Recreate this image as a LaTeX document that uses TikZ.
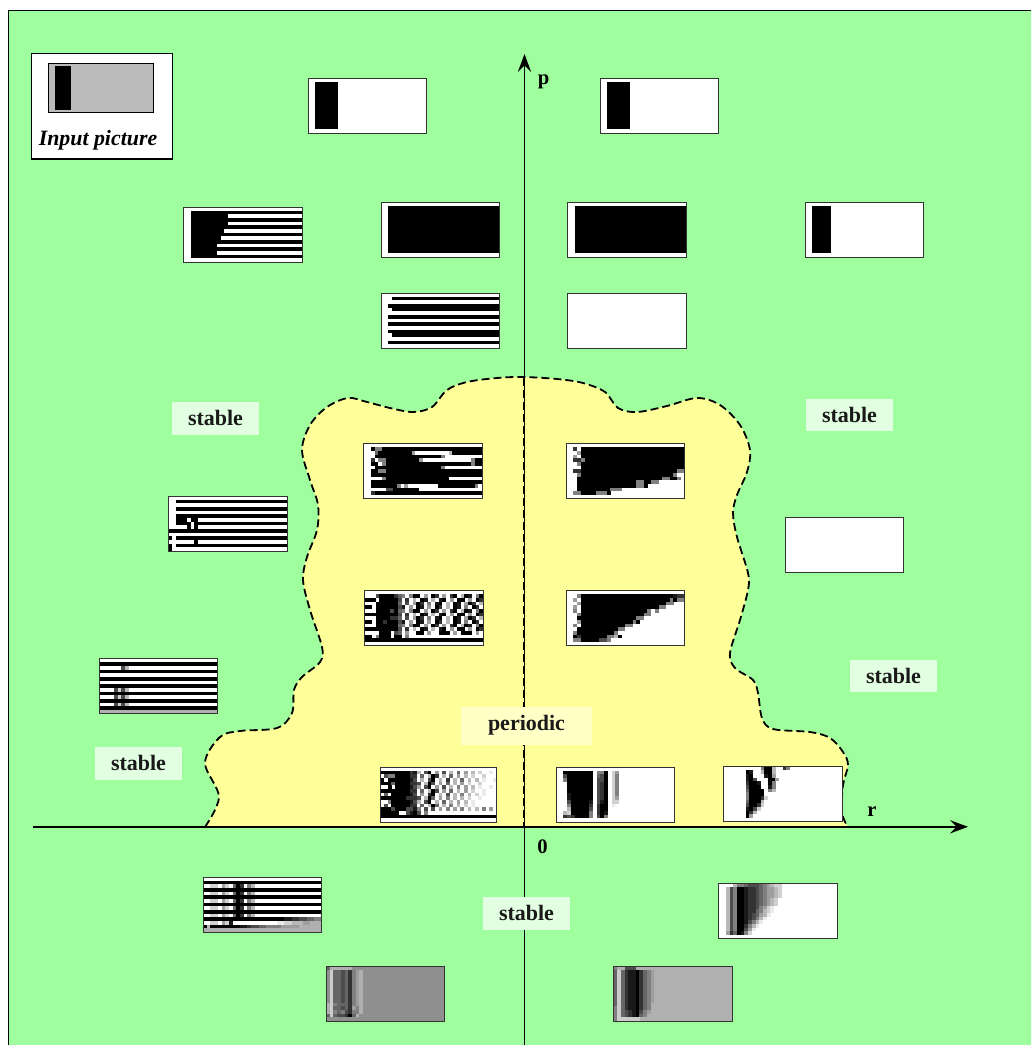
\documentclass[tikz,border=0pt]{standalone}
\usepackage{fontspec}
\setmainfont{Liberation Serif}
\usetikzlibrary{arrows.meta}
\definecolor{bggreen}{HTML}{9FFF9F}
\definecolor{regionyellow}{HTML}{FFFF99}
\definecolor{stablefill}{HTML}{E2FFE2}
\definecolor{periodicfill}{HTML}{FFFFC6}
\colorlet{g1}{black!8}\colorlet{g2}{black!18}\colorlet{g3}{black!28}\colorlet{g4}{black!38}
\colorlet{g5}{black!50}\colorlet{g6}{black!60}\colorlet{g7}{black!70}\colorlet{g8}{black!80}
\colorlet{g9}{black!90}\colorlet{gX}{black}
\colorlet{ga}{black!31}\colorlet{gb}{black!44}\colorlet{gc}{black!20}
\newcount\cellx \newcount\celly
\newdimen\cellw
\def\drawcell#1{\ifx#1.\else\fill[color=g#1] (\the\cellx,\the\celly) rectangle ++(1.04,1.04);\fi}
\def\scanrow#1{\ifx#1\relax\let\nextcell\relax\else\drawcell{#1}\global\advance\cellx by 1 \let\nextcell\scanrow\fi\nextcell}
\def\endmark{\relax}
\def\rowloop#1,{\def\thisrow{#1}\ifx\thisrow\endmark\let\nextrow\relax\else\global\cellx=0 \scanrow#1\relax\global\advance\celly by 1 \let\nextrow\rowloop\fi\nextrow}
\def\dorows#1{\edef\rowsx{#1}\expandafter\rowloop\rowsx,\relax,}
% [width], name, left, top, background, rows
\newcommand\thumb[6][88.875pt]{%
  \node[thumbbox,minimum width=#1,fill=#5] (#2) at (#3,#4) {};
  \cellw=#1\relax \divide\cellw by 32 \edef\cellwtxt{\the\cellw}%
  \begin{scope}[shift={(#3,#4)},x=\cellwtxt,y=-2.75pt]
    \clip (0,0) rectangle (32,15);
    \global\celly=0
    \dorows#6
  \end{scope}
  \draw[thumbedge] (#2.north west) rectangle (#2.south east);
}
\def\rowsbarA{.,..XXXXXX,..XXXXXX,..XXXXXX,..XXXXXX,..XXXXXX,..XXXXXX,..XXXXXX,..XXXXXX,..XXXXXX,..XXXXXX,..XXXXXX,..XXXXXX,..XXXXXX}
\def\rowsbarB{.,..XXXXX,..XXXXX,..XXXXX,..XXXXX,..XXXXX,..XXXXX,..XXXXX,..XXXXX,..XXXXX,..XXXXX,..XXXXX,..XXXXX,..XXXXX}
\def\rowsfull{.,..XXXXXXXXXXXXXXXXXXXXXXXXXXXXXX,..XXXXXXXXXXXXXXXXXXXXXXXXXXXXXX,..XXXXXXXXXXXXXXXXXXXXXXXXXXXXXX,..XXXXXXXXXXXXXXXXXXXXXXXXXXXXXX,..XXXXXXXXXXXXXXXXXXXXXXXXXXXXXX,..XXXXXXXXXXXXXXXXXXXXXXXXXXXXXX,..XXXXXXXXXXXXXXXXXXXXXXXXXXXXXX,..XXXXXXXXXXXXXXXXXXXXXXXXXXXXXX,..XXXXXXXXXXXXXXXXXXXXXXXXXXXXXX,..XXXXXXXXXXXXXXXXXXXXXXXXXXXXXX,..XXXXXXXXXXXXXXXXXXXXXXXXXXXXXX,..XXXXXXXXXXXXXXXXXXXXXXXXXXXXXX,..XXXXXXXXXXXXXXXXXXXXXXXXXXXXXX}
\def\fl{XXXXXXXXXXXXXXXXXXXXXXXXXXXXXXXX}
\def\mk{..22.42.6X8.53}
\def\ckA{5.5XX.4.X8.4.8X.3X9.5X}
\def\ckB{.8.3.X9.3.9X.4.XX.4.X8}
\def\ckC{.7.4X8.5.9X.3.X9.4X8.3}
\def\ckD{9.4.X9.4.X8.3.X9.5.X8.}
\tikzset{
  x=0.75pt,y=-0.75pt,
  thumbbox/.style={anchor=north west,minimum height=41.25pt,inner sep=0pt,outer sep=0pt},
  thumbedge/.style={draw=black!80,line width=0.7pt},
  stablebox/.style={fill=stablefill,minimum width=65.25pt,minimum height=24.5pt,inner sep=0pt},
  periodicbox/.style={fill=periodicfill,minimum width=98pt,minimum height=28.5pt,inner sep=0pt},
  regionlabel/.style={font=\bfseries\fontsize{16.5}{18}\selectfont,text=black!90},
  axislabel/.style={font=\bfseries\fontsize{15.5}{18}\selectfont,inner sep=0pt},
  axisline/.style={line width=1.2pt,-{Stealth[length=13.5pt,width=10pt,inset=5pt]}},
  boundary/.style={draw=black,line width=1.35pt,dash pattern=on 6pt off 3pt},
}
\def\bnd{plot[smooth,tension=.55] coordinates {(205,827) (219,797) (205,763) (220,737) (240,731) (277,728) (292,713) (294,690) (302,677) (320,662) (322,647) (310,610) (303,580) (307,557) (317,530) (318,505) (310,480) (302,450) (310,425) (327,407) (348,398) (367,402) (390,408) (413,412) (432,407) (447,390) (467,382) (497,378) (523,377) (557,379) (583,383) (605,392) (618,408) (637,412) (667,406) (697,398) (720,405) (740,425) (750,450) (747,472) (737,495) (733,513) (737,537) (748,573) (748,590) (740,620) (730,653) (735,668) (753,680) (758,693) (762,718) (773,729) (810,732) (830,738) (843,752) (848,765) (843,785) (842,813) (848,827)}}
\begin{document}
\begin{tikzpicture}
\useasboundingbox (0,0) rectangle (1031,1045);
\clip (0,0) rectangle (1031,1045);
\coordinate (frameA) at (8.5,10.5);
\coordinate (frameB) at (1045,1060);
\draw[fill=bggreen,line width=1pt] (frameA) rectangle (frameB);
\fill[regionyellow] \bnd -- cycle;
% axes
\coordinate (pstart) at (524.5,1050);
\coordinate (ptip) at (524.5,54);
\coordinate (rstart) at (33,826.8);
\coordinate (rtip) at (968,826.8);
\coordinate (dashA) at (524,378);
\coordinate (dashB) at (524,827);
\draw[axisline] (pstart) -- (ptip);
\draw[axisline] (rstart) -- (rtip);
\draw[boundary,line width=1.6pt] (dashA) -- (dashB);
\draw[boundary] \bnd;
\node[axislabel] (plabel) at (543.5,81.5) {p};
\node[axislabel] (rlabel) at (872,812) {r};
\node[axislabel] (zerolabel) at (542.5,847) {0};
% input picture
\node[draw=black,fill=white,line width=1.1pt,minimum width=105.5pt,minimum height=79pt,inner sep=0pt,anchor=north west] (inputframe) at (31,53) {};
\node[draw=black,fill=black!27,line width=0.8pt,minimum width=79pt,minimum height=36.5pt,inner sep=0pt,anchor=north west] (inputimage) at (48,63) {};
\node[fill=black,minimum width=12pt,minimum height=33pt,inner sep=0pt,anchor=north west] (inputbar) at (55,66) {};
\node[font=\bfseries\itshape\fontsize{16.4}{18}\selectfont,inner sep=0pt] (inputlabel) at (98,140) {Input picture};
% thumbnails
\thumb{tA}{308}{78}{white}{\rowsbarA}
\thumb{tB}{600}{78}{white}{\rowsbarA}
\thumb{tC}{183.5}{207}{white}{{.,
..XXXXXXXXXXXXXXXXXXXXXXXXXXXXXX,
..XXXXXXXXXX....................,
..XXXXXXXXXXXXXXXXXXXXXXXXXXXXXX,
..XXXXXXXXXX....................,
..XXXXXXXXXXXXXXXXXXXXXXXXXXXXXX,
..XXXXXXXXX.....................,
..XXXXXXXXXXXXXXXXXXXXXXXXXXXXXX,
..XXXXXXXX......................,
..XXXXXXXXXXXXXXXXXXXXXXXXXXXXXX,
..XXXXXXX.......................,
..XXXXXXXXXXXXXXXXXXXXXXXXXXXXXX,
..XXXXXXX.......................,
..XXXXXXXXXXXXXXXXXXXXXXXXXXXXXX}}
\thumb{tD}{381}{202}{white}{\rowsfull}
\thumb{tE}{567.5}{202}{white}{\rowsfull}
\thumb{tF}{805}{202}{white}{\rowsbarB}
\thumb{tG}{381}{293}{white}{{.,
...XXXXXXXXXXXXXXXXXXXXXXXXXXXXX,
.,
..XXXXXXXXXXXXXXXXXXXXXXXXXXXXXX,
...XXXXXXXXXXXXXXXXXXXXXXXXXXXXX,
.,
..XXXXXXXXXXXXXXXXXXXXXXXXXXXXXX,
.,
..XXXXXXXXXXXXXXXXXXXXXXXXXXXXXX,
.,
..XXXXXXXXXXXXXXXXXXXXXXXXXXXXXX,
...XXXXXXXXXXXXXXXXXXXXXXXXXXXXX,
.,
..XXXXXXXXXXXXXXXXXXXXXXXXXXXXXX}}
\thumb{tH}{567.5}{293}{white}{{.}}
\thumb{tI}{363.5}{443.5}{white}{{.,
..X55XXXXXXXXXXXXXXXXXXXXXXXXXXX,
...6XXXXXXXXX4.........3XXXXXXXX,
...XXXXXXXXXXXXXXXXXX5..........,
..8.55XXXXXXXXX4.............5XX,
..XX.5XXXXXXXXXXXXXXXXXXXXXXX5XX,
...XXXXXXXXXXXXXXXXXX5..........,
..XX55XXXXXXXXXXXXXXXXXXXXXXXXXX,
..XXXXXXXXXXXXXXXXXXXXXXXXXXXXXX,
.....5XXXXXXXXXXXXXXXXX.........,
..XXXXXXXXXXXXXXXXXXXXXXXXXXXXXX,
..XXXXXXX5.4........XXXXXXXXXX5.,
......77XXXXXXX.................,
..8XXXXXXXXXXXXXXXXXXXXXXXXXXXXX}}
\thumb{tJ}{566}{443.5}{white}{{.,
..8.XXXXXXXXXXXXXXXXXXXXXXXXXXXX,
...4XXXXXXXXXXXXXXXXXXXXXXXXXXXX,
..4.XXXXXXXXXXXXXXXXXXXXXXXXXXXX,
..885XXXXXXXXXXXXXXXXXXXXXXXXXXX,
...5XXXXXXXXXXXXXXXXXXXXXXXXXXXX,
....XXXXXXXXXXXXXXXXXXXXXXXXXXXX,
..88XXXXXXXXXXXXXXXXXXXXXXXXXX55,
...5XXXXXXXXXXXXXXXXXXXXXXXXX5..,
...XXXXXXXXXXXXXXXXXXXXXXX55XX5,
...XXXXXXXXXXXXXXXX55XX55,
...XXXXXXXXXXXXXXXX55X,
...XXXXXXXXX555,
..55XXXX555X}}
\thumb{tK}{168.5}{496}{white}{{.,
..XXXXXXXXXXXXXXXXXXXXXXXXXXXXXX,
.,
..XXXXXXXXXXXXXXXXXXXXXXXXXXXXXX,
.,
..XXXXXXXXXXXXXXXXXXXXXXXXXXXXXX,
..XXX.XX,
..XXXX.XXXXXXXXXXXXXXXXXXXXXXXXX,
.....X.X,
XXXXXXXXXXXXXXXXXXXXXXXXXXXXXXXX,
.,
X.XXXXXXXXXXXXXXXXXXXXXXXXXXXXXX,
.......X,
X.XXXXXXXXXXXXXXXXXXXXXXXXXXXXXX,
X.}}
\thumb{tL}{785}{517}{white}{{.}}
\thumb{tM}{364.5}{590.5}{white}{{.,
...7XXXX86\ckA,
XXX.XXXXX7\ckB,
...XXXXXX6\ckC,
XX.XXXXXX7\ckD,
...XXXX7X6\ckA,
XXXXXXXXX7\ckB,
...XXXX886\ckC,
XX.XX8XXX7\ckD,
...XXXXXX6\ckA,
XXXXXXXXX7\ckB,
....XXX.76.4..XX.4..XXX.4.XXX.4.,
XX.5XXX.XX.5..,
XXXXXXXXXXXXXXXXXXXXXXXXXXXXXXXX}}
\thumb{tN}{566}{590.5}{white}{{.,
...5XXXXXXXXXXXXXXXXXXXXXXXXX988,
..4.XXXXXXXXXXXXXXXXXXXXXXXX5X55,
...4XXXXXXXXXXXXXXXXXXXXXXX55,
..4.XXXXXXXXXXXXXXXXXXXXX55,
..5.XXXXXXXXXXXXXXXXXX5.5,
...5XXXXXXXXXXXXXXXXX55,
...XXXXXXXXXXXXXXXX55,
...4XXXXXXXXXXXXXX5X,
..5.XXXXXXXXXXXX55,
...XXXXXXXXXXX55,
..5XXXXXXXXXX5,
..X8XXXXXXX553X,
..55XXXXX775}}
\thumb{tO}{99}{658.5}{white}{{.,
\fl,
......73,
\fl,
.,
\fl,
.,
\fl,
....7273,
\fl,
....7273,
\fl,
....7273,
\fl,
aaaaaaaaaaaaaaaaaaaaaaaaaaaaaaaa}}
\thumb[87pt]{tP}{380.5}{767}{white}{{.,
XXXXXXXX893.7X.4.7.3.6.4.3.2..1..,
.755XXXX88.6.3X8.3.6.4.3.2..2....,
X.XXXXXX97.3.7X.3.8.3.6.3.3.1..1.,
XXX6XXXX887.3X7.4.6.3.4.2..2.....,
..X.XXXX974.7X.4.7.3.5.4.3.1..1..,
XXXXXXXX88.6.3X7.4.6.3.4.2..1....,
.6.XXXXX97.4.8X.3.7.3.5.3.2.1....,
XXXXXXX8887.3X6.4.5.3.3.2..1.....,
..5XXXXX973.7X.3.6.3.4.3.1.......,
.7.XXXXX88.6.3X6.3.5.3.2.1.......,
XXX7XXX7795.7.7.4.5.4.5.3.3.5.4.2,
XXXXX..79X7.5.,
XXXXXXXXXXXXXXXXXXXXXXXXXXXXXXXX}}
\thumb{tQ}{556}{767}{white}{{.,
..XXXXXXXX.55X.24,
..7XXXXXXX.67X.25,
..5XXXXXXX.77X.25,
...XXXXXXX.78X.25,
...XXXXXXX.78X.25,
...XXXXXXX.78X.25,
...9XXXXXX.78X.25,
...9XXXXXX.78X.24,
...7XXXXX9.79X.22,
...5XXXXX8.8XX.1,
...3XXXXX7.8XX,
..32XXXXX5.8X9,
..878XXXX5.7X5}}
\thumb{tR}{723.5}{766.5}{white}{{..........5XX3..85,
......X9..3XX3,
......9X...9X4,
......9X7...XX4,
......8XX9..X5,
......7XXX..95,
......6XXXX.53,
......5XXXX,
......5XXX82,
......6XXX3,
......7XX82,
......9X72,
......X83,
......X4}}
\thumb{tS}{203}{877}{white}{{.,
\fl,
\mk,
\fl,
\mk,
\fl,
\mk,
\fl,
\mk,
\fl,
\mk,
XXXXXXXXXXXXXXXXXXXXXX9988776655,
..22.429............112233344aaa,
X3XXXXXXXX9987766555544444aaaaaa,
aaaaaaaaaaaaaaaaaaaaaaaaaaaaaaaa}}
\thumb{tT}{326}{966}{gb}{{6aaaaaabb,
bc6676854a,
bc6676854a,
bc6676854a,
bc6676854a,
bc6676854a,
bc6676854a,
bc6676854a,
bc6676854a,
bc6676854a,
ac5666854a,
ac6676845a,
ac5657855a,
6c6778X6a}}
\thumb{tU}{718.5}{883.5}{white}{{....3556777654322,
..375XX9887654432,
..375XX9887654432,
..375XX9887654432,
..375XX988765432,
..375XX988765432,
..375XX98875421,
..375XX98865321,
..375XX9876431,
..375XX987531,
..375XX97531,
..375XX8531,
..375XX741,
..486X952}}
\thumb{tV}{613.5}{966}{ga}{{5aa777a,
6c6899X8654,
6c6899X8654,
6c6899X8654,
6c6899X8654,
6c6899X8654,
6c6899X8654,
6c6899X8654,
6c6899X8654,
6c6899X8654,
6c6899X865,
5c6899X865,
5c6789X754,
5c6789X65,
5cccccc}}
% labels
\node[stablebox] (sA) at (215.5,418.5) {};
\node[regionlabel] (sAt) at (215.5,417.5) {stable};
\node[stablebox] (sB) at (849.5,415) {};
\node[regionlabel] (sBt) at (849.5,414.5) {stable};
\node[stablebox] (sC) at (893.5,676) {};
\node[regionlabel] (sCt) at (893.5,675.5) {stable};
\node[stablebox] (sD) at (138.5,763.5) {};
\node[regionlabel] (sDt) at (138.5,763) {stable};
\node[stablebox] (sE) at (526.5,913.5) {};
\node[regionlabel] (sEt) at (526.5,913) {stable};
\node[periodicbox] (pbox) at (526.5,726) {};
\node[regionlabel] (pt) at (526.5,725.5) {periodic};
\end{tikzpicture}
\end{document}
